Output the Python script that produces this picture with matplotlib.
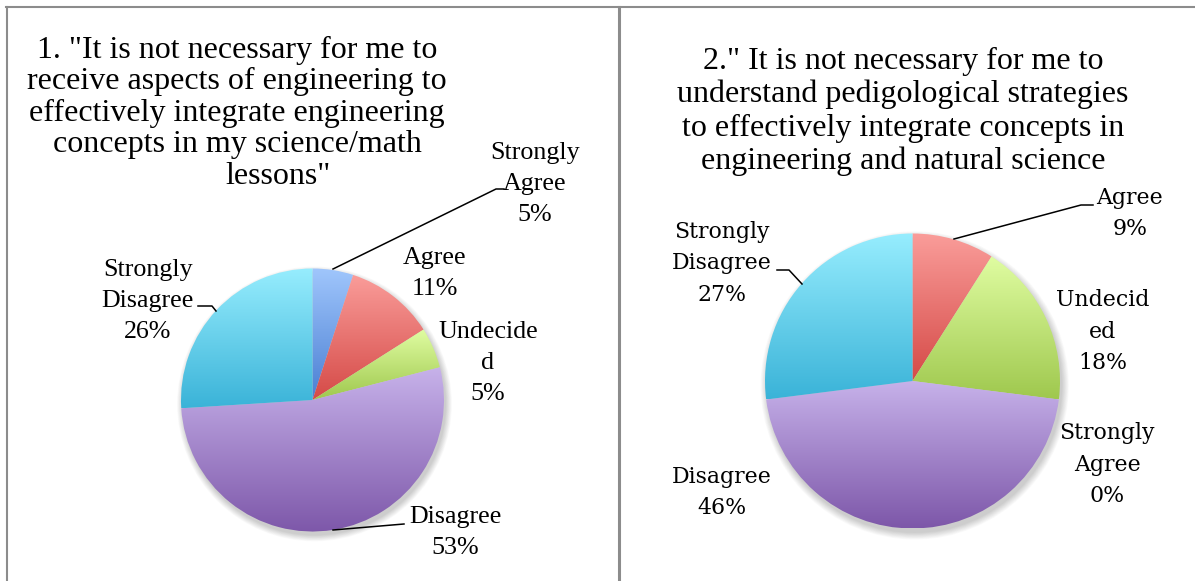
import numpy as np
import matplotlib
matplotlib.use("Agg")
import matplotlib.pyplot as plt
from matplotlib.colors import LinearSegmentedColormap
from matplotlib.lines import Line2D
from matplotlib.patches import Circle

W, H = 1195, 581

# ---- data ----
left_title = ['1. "It is not necessary for me to',
              'receive aspects of engineering to',
              'effectively integrate engineering',
              'concepts in my science/math',
              'lessons"']
right_title = ['2." It is not necessary for me to',
               'understand pedigological strategies',
               'to effectively integrate concepts in',
               'engineering and natural science']

left_cats = ['Strongly Agree', 'Agree', 'Undecided', 'Disagree', 'Strongly Disagree']
left_vals = [5, 11, 5, 53, 26]
left_labels = ['Strongly\nAgree', 'Agree', 'Undecide\nd', 'Disagree', 'Strongly\nDisagree']

right_cats = ['Agree', 'Undecided', 'Strongly Agree', 'Disagree', 'Strongly Disagree']
right_vals = [9, 18, 0, 46, 27]
right_labels = ['Agree', 'Undecid\ned', 'Strongly\nAgree', 'Disagree', 'Strongly\nDisagree']

# (top colour, bottom colour) for each category
grad_colors = {
    'Strongly Agree': ('#a0c6fc', '#4a7fd3'),
    'Agree': ('#fa9d9a', '#d54a47'),
    'Undecided': ('#e0fda2', '#9fc84e'),
    'Disagree': ('#c7b2ea', '#7d57a9'),
    'Strongly Disagree': ('#97edfe', '#3ab3d8'),
}

fig = plt.figure(figsize=(W / 100, H / 100), dpi=100)


def fx(x):
    return x / W


def fy(y):
    return 1 - y / H


def draw_pie(cx, cy, r, vals, cats):
    half = r + 25
    ax = fig.add_axes([fx(cx - half), fy(cy + half), 2 * half / W, 2 * half / H])
    lim = half / r
    # soft shadow
    for k in range(10):
        ax.add_patch(Circle((0.015, -0.03), 1.0 + 0.005 * k, color='k',
                            alpha=0.018, lw=0, zorder=0.5))
    wedges, _ = ax.pie(vals, startangle=90, counterclock=False, radius=1,
                       wedgeprops=dict(lw=0))
    grad = np.linspace(0, 1, 256).reshape(-1, 1)
    for w, c, v in zip(wedges, cats, vals):
        w.set_facecolor('none')
        if v <= 0:
            continue
        verts = w.get_path().vertices
        x0, x1 = verts[:, 0].min(), verts[:, 0].max()
        y0, y1 = verts[:, 1].min(), verts[:, 1].max()
        top, bot = grad_colors[c]
        cmap = LinearSegmentedColormap.from_list(c, [bot, top])
        im = ax.imshow(grad, cmap=cmap, extent=[x0, x1, y0, y1], origin='lower',
                       aspect='auto', zorder=2, interpolation='bilinear')
        im.set_clip_path(w)
    ax.set_xlim(-lim, lim)
    ax.set_ylim(-lim, lim)
    ax.set_aspect('auto')
    ax.axis('off')
    return ax


def put_lines(lines, cx, y0, step, **kw):
    for i, s in enumerate(lines):
        fig.text(fx(cx), fy(y0 + i * step), s, ha='center', va='center', **kw)


def leader(pts):
    xs = [fx(p[0]) for p in pts]
    ys = [fy(p[1]) for p in pts]
    fig.add_artist(Line2D(xs, ys, color='black', lw=1.1))


# ---- frame ----
gray = '#8c8c8c'
fig.add_artist(Line2D([fx(6), 1], [fy(7), fy(7)], color=gray, lw=1.5))
fig.add_artist(Line2D([fx(7), fx(7)], [fy(7), 0], color=gray, lw=1.5))
fig.add_artist(Line2D([fx(619), fx(619)], [fy(7), 0], color=gray, lw=2.2))

serif = 'Liberation Serif'

# ---- titles ----
title_kw = dict(family=serif, fontsize=23, color='black')
put_lines(left_title[:4], 237, 50, 31.5, **title_kw)
fig.text(fx(278), fy(50 + 4 * 31.5), left_title[4], ha='center', va='center', **title_kw)
put_lines(right_title, 903, 61, 33.5, **title_kw)

# ---- pies ----
draw_pie(312.5, 400, 131.5, left_vals, left_cats)
draw_pie(912.5, 381, 147.5, right_vals, right_cats)

# ---- labels ----
left_pos = [(535, 153), (435, 258), (488, 332), (455, 517), (148, 270)]
for lab, v, (x, y) in zip(left_labels, left_vals, left_pos):
    put_lines(lab.split('\n') + [f'{v}%'], x, y, 31, family=serif, fontsize=18.7)

right_pos = [(1130, 198), (1103, 300), (1107, 433), (722, 477), (722, 232)]
for lab, v, (x, y) in zip(right_labels, right_vals, right_pos):
    put_lines(lab.split('\n') + [f'{v}%'], x, y, 31.5, family='DejaVu Serif', fontsize=15.8)

# ---- leader lines ----
leader([(504, 189), (496, 189), (333, 269)])
leader([(333, 530), (404, 524)])
leader([(198, 306), (212, 306), (216, 311)])
leader([(1093, 205), (1081, 205), (954, 239)])
leader([(777, 270), (789, 270), (802, 284)])

fig.savefig('out.png', dpi=100)
